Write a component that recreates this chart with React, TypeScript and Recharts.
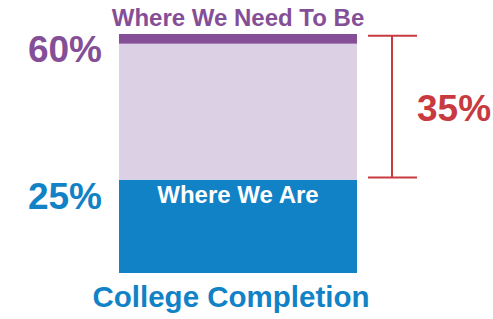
import React from "react";
import { BarChart, Bar, XAxis, YAxis } from "recharts";

const categories = ["College Completion"];
const whereWeAre = [25];
const gapToGoal = [36.5];
const goalBand = [2.6];
const currentLabel = "25%";
const goalLabel = "60%";
const gapLabel = "35%";
const currentName = "Where We Are";
const goalName = "Where We Need To Be";

const data = categories.map((name, i) => ({
  name,
  current: whereWeAre[i],
  gap: gapToGoal[i],
  goal: goalBand[i],
}));

const FONT = "'Liberation Sans', Arial, Helvetica, sans-serif";
const BLUE = "#1182c6";
const LIGHT = "#dcd1e4";
const PURPLE = "#844f97";
const RED = "#c83a40";

const CurrentShape = (p: any) => {
  const { x, y, width, height } = p;
  return (
    <g>
      <rect x={x} y={y} width={width} height={height} fill={BLUE} />
      <text x={x - 17} y={y + 29.5} textAnchor="end" fontFamily={FONT} fontWeight="bold" fontSize={37} fill={BLUE}>
        {currentLabel}
      </text>
      <text x={x + width / 2} y={y + 23} textAnchor="middle" fontFamily={FONT} fontWeight="bold" fontSize={24} fill="#ffffff">
        {currentName}
      </text>
    </g>
  );
};

const GapShape = (p: any) => {
  const { x, y, width, height } = p;
  const bx = x + width + 35;
  const top = y - 8;
  const bottom = y + height - 2.3;
  return (
    <g>
      <rect x={x} y={y} width={width} height={height} fill={LIGHT} />
      <line x1={bx} x2={bx} y1={top} y2={bottom} stroke={RED} strokeWidth={2} />
      <line x1={x + width + 11} x2={x + width + 60} y1={top} y2={top} stroke={RED} strokeWidth={2} />
      <line x1={x + width + 11} x2={x + width + 60} y1={bottom} y2={bottom} stroke={RED} strokeWidth={2} />
      <text x={x + width + 60} y={y + height / 2 + 9.6} textAnchor="start" fontFamily={FONT} fontWeight="bold" fontSize={37} fill={RED}>
        {gapLabel}
      </text>
    </g>
  );
};

const GoalShape = (p: any) => {
  const { x, y, width, height } = p;
  return (
    <g>
      <rect x={x} y={y} width={width} height={height} fill={PURPLE} />
      <text x={x - 17} y={y + 27.5} textAnchor="end" fontFamily={FONT} fontWeight="bold" fontSize={37} fill={PURPLE}>
        {goalLabel}
      </text>
      <text x={x + width / 2} y={y - 8} textAnchor="middle" fontFamily={FONT} fontWeight="bold" fontSize={24} fill={PURPLE}>
        {goalName}
      </text>
    </g>
  );
};

const TitleTick = (p: any) => {
  const { x, y, payload } = p;
  return (
    <text x={x - 7} y={y + 34} textAnchor="middle" fontFamily={FONT} fontWeight="bold" fontSize={29.5} fill={BLUE}>
      {payload.value}
    </text>
  );
};

export default function App() {
  return (
    <div style={{ position: "absolute", left: 0, top: 0 }}>
      <BarChart width={493} height={319} data={data} barCategoryGap={0} margin={{ top: 34, right: 136, bottom: 0, left: 119 }}>
        <XAxis dataKey="name" axisLine={false} tickLine={false} tickSize={0} tickMargin={0} height={46} interval={0} tick={<TitleTick />} />
        <YAxis hide domain={[0, 64.1]} />
        <Bar dataKey="current" stackId="a" isAnimationActive={false} shape={<CurrentShape />} />
        <Bar dataKey="gap" stackId="a" isAnimationActive={false} shape={<GapShape />} />
        <Bar dataKey="goal" stackId="a" isAnimationActive={false} shape={<GoalShape />} />
      </BarChart>
    </div>
  );
}
